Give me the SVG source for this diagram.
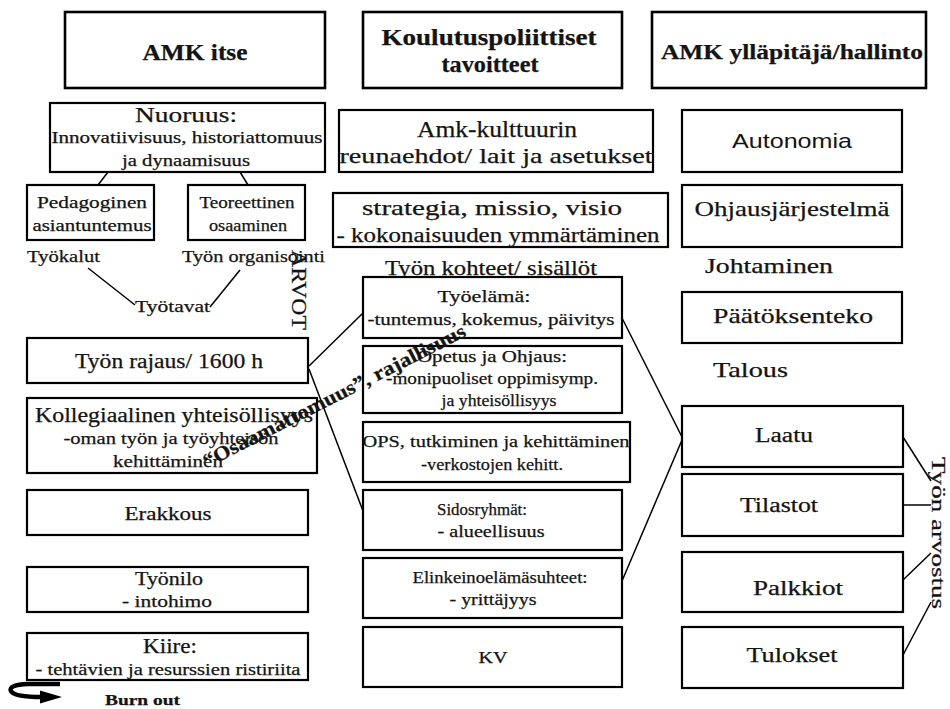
<svg xmlns="http://www.w3.org/2000/svg" width="950" height="709" viewBox="0 0 950 709">
  <style>
    .box { fill: #ffffff; stroke: #000000; stroke-width: 2.2; }
    .hdr { fill: #ffffff; stroke: #000000; stroke-width: 2.6; }
    .t { fill: #141414; text-anchor: middle; stroke: #141414; stroke-width: 0.25; }
    .s { fill: #141414; text-anchor: middle; }
    .b { font-weight: bold; }
    .l { text-anchor: start; }
    .ln { stroke: #000000; stroke-width: 1.5; fill: none; }
  </style>
  <rect x="0" y="0" width="950" height="709" fill="#ffffff"/>

  <g font-family="'Liberation Serif', 'Times New Roman', serif">
  <!-- column headers -->
  <g id="hdr-amk-itse">
    <rect class="hdr" x="65" y="12" width="260" height="76"/>
    <text class="t b" x="195" y="60" font-size="23" textLength="105" lengthAdjust="spacingAndGlyphs">AMK itse</text>
  </g>
  <g id="hdr-koulutuspolitiikka">
    <rect class="hdr" x="363" y="12" width="259" height="76"/>
    <text class="t b" x="489" y="45" font-size="23" textLength="215" lengthAdjust="spacingAndGlyphs">Koulutuspoliittiset</text>
    <text class="t b" x="490" y="72" font-size="23" textLength="97" lengthAdjust="spacingAndGlyphs">tavoitteet</text>
  </g>
  <g id="hdr-yllapitaja">
    <rect class="hdr" x="652" y="12" width="274" height="76"/>
    <text class="t b" x="792" y="59" font-size="22" textLength="262" lengthAdjust="spacingAndGlyphs">AMK ylläpitäjä/hallinto</text>
  </g>

  <!-- left column -->
  <g id="nuoruus">
    <rect class="box" x="50" y="103" width="275" height="69"/>
    <text class="t" x="186" y="122" font-size="22" textLength="102" lengthAdjust="spacingAndGlyphs">Nuoruus:</text>
    <text class="t" x="187" y="143" font-size="16" textLength="271" lengthAdjust="spacingAndGlyphs">Innovatiivisuus, historiattomuus</text>
    <text class="t" x="186" y="166" font-size="16" textLength="128" lengthAdjust="spacingAndGlyphs">ja dynaamisuus</text>
  </g>
  <g id="pedagoginen">
    <rect class="box" x="27" y="185" width="127" height="55"/>
    <text class="t" x="92" y="208" font-size="16" textLength="110" lengthAdjust="spacingAndGlyphs">Pedagoginen</text>
    <text class="t" x="92" y="231" font-size="16" textLength="119" lengthAdjust="spacingAndGlyphs">asiantuntemus</text>
  </g>
  <g id="teoreettinen">
    <rect class="box" x="188" y="185" width="117" height="55"/>
    <text class="t" x="247" y="208" font-size="16" textLength="95" lengthAdjust="spacingAndGlyphs">Teoreettinen</text>
    <text class="t" x="248" y="231" font-size="16" textLength="78" lengthAdjust="spacingAndGlyphs">osaaminen</text>
  </g>
  <g id="tyokalut">
    <text class="t l" x="27" y="262" font-size="17" textLength="73" lengthAdjust="spacingAndGlyphs">Työkalut</text>
  </g>
  <g id="tyon-organisointi">
    <text class="t l" x="182" y="262" font-size="17" textLength="143" lengthAdjust="spacingAndGlyphs">Työn organisointi</text>
  </g>
  <g id="tyotavat">
    <text class="t l" x="135" y="312" font-size="17" textLength="75" lengthAdjust="spacingAndGlyphs">Työtavat</text>
  </g>
  <g id="tyon-rajaus">
    <rect class="box" x="27" y="338" width="281" height="45"/>
    <text class="t" x="169" y="368" font-size="20" textLength="188" lengthAdjust="spacingAndGlyphs">Työn rajaus/ 1600 h</text>
  </g>
  <g id="kollegiaalinen">
    <rect class="box" x="27" y="398" width="290" height="75"/>
    <text class="t" x="174" y="422" font-size="20" textLength="278" lengthAdjust="spacingAndGlyphs">Kollegiaalinen yhteisöllisyys</text>
    <text class="t" x="171" y="444" font-size="17" textLength="215" lengthAdjust="spacingAndGlyphs">-oman työn ja työyhteisön</text>
    <text class="t" x="168" y="467" font-size="17" textLength="110" lengthAdjust="spacingAndGlyphs">kehittäminen</text>
  </g>
  <g id="erakkous">
    <rect class="box" x="27" y="490" width="281" height="45"/>
    <text class="t" x="168" y="520" font-size="18" textLength="87" lengthAdjust="spacingAndGlyphs">Erakkous</text>
  </g>
  <g id="tyonilo">
    <rect class="box" x="27" y="567" width="281" height="45"/>
    <text class="t" x="169" y="585" font-size="19" textLength="68" lengthAdjust="spacingAndGlyphs">Työnilo</text>
    <text class="t" x="167" y="607" font-size="17" textLength="90" lengthAdjust="spacingAndGlyphs">- intohimo</text>
  </g>
  <g id="kiire">
    <rect class="box" x="27" y="633" width="281" height="47"/>
    <text class="t" x="170" y="653" font-size="20" textLength="54" lengthAdjust="spacingAndGlyphs">Kiire:</text>
    <text class="t" x="168" y="675" font-size="17" textLength="265" lengthAdjust="spacingAndGlyphs">- tehtävien ja resurssien ristiriita</text>
  </g>
  <g id="burn-out">
    <path d="M60 684 L28 684 Q8 685 11 691 Q14 697 42 697" stroke="#000" stroke-width="4.5" fill="none"/>
    <polygon points="40,690.5 62,697 40,703.5" fill="#000"/>
    <text class="t b l" x="105" y="705" font-size="15" textLength="75" lengthAdjust="spacingAndGlyphs">Burn out</text>
  </g>

  <!-- middle column -->
  <g id="amk-kulttuuri">
    <rect class="box" x="339" y="110" width="314" height="62"/>
    <text class="t" x="497" y="137" font-size="23" textLength="160" lengthAdjust="spacingAndGlyphs">Amk-kulttuurin</text>
    <text class="t" x="496" y="163" font-size="22" textLength="313" lengthAdjust="spacingAndGlyphs">reunaehdot/ lait ja asetukset</text>
  </g>
  <g id="strategia">
    <rect class="box" x="333" y="193" width="335" height="54"/>
    <text class="t" x="492" y="215" font-size="21" textLength="260" lengthAdjust="spacingAndGlyphs">strategia, missio, visio</text>
    <text class="t" x="498" y="242" font-size="20" textLength="323" lengthAdjust="spacingAndGlyphs">- kokonaisuuden ymmärtäminen</text>
  </g>
  <g id="tyon-kohteet">
    <text class="t" x="491" y="275" font-size="21" textLength="212" lengthAdjust="spacingAndGlyphs">Työn kohteet/ sisällöt</text>
  </g>
  <g id="tyoelama">
    <rect class="box" x="363" y="277" width="259" height="61"/>
    <text class="t" x="484" y="302" font-size="16" textLength="93" lengthAdjust="spacingAndGlyphs">Työelämä:</text>
    <text class="t" x="491" y="325" font-size="16" textLength="247" lengthAdjust="spacingAndGlyphs">-tuntemus, kokemus, päivitys</text>
  </g>
  <g id="opetus">
    <rect class="box" x="363" y="346" width="259" height="67"/>
    <text class="t" x="492" y="362" font-size="16" textLength="150" lengthAdjust="spacingAndGlyphs">Opetus ja Ohjaus:</text>
    <text class="t" x="492" y="384" font-size="16" textLength="212" lengthAdjust="spacingAndGlyphs">-monipuoliset oppimisymp.</text>
    <text class="t" x="499" y="406" font-size="16" textLength="115" lengthAdjust="spacingAndGlyphs">ja yhteisöllisyys</text>
  </g>
  <g id="ops">
    <rect class="box" x="363" y="422" width="267" height="60"/>
    <text class="t" x="496" y="447" font-size="16" textLength="267" lengthAdjust="spacingAndGlyphs">OPS, tutkiminen ja kehittäminen</text>
    <text class="t" x="492" y="470" font-size="16" textLength="142" lengthAdjust="spacingAndGlyphs">-verkostojen kehitt.</text>
  </g>
  <g id="sidosryhmat">
    <rect class="box" x="363" y="490" width="259" height="60"/>
    <text class="t" x="482" y="515" font-size="16" textLength="90" lengthAdjust="spacingAndGlyphs">Sidosryhmät:</text>
    <text class="t" x="491" y="537" font-size="16" textLength="107" lengthAdjust="spacingAndGlyphs">- alueellisuus</text>
  </g>
  <g id="elinkeino">
    <rect class="box" x="363" y="558" width="259" height="60"/>
    <text class="t" x="500" y="583" font-size="16" textLength="175" lengthAdjust="spacingAndGlyphs">Elinkeinoelämäsuhteet:</text>
    <text class="t" x="493" y="605" font-size="16" textLength="87" lengthAdjust="spacingAndGlyphs">- yrittäjyys</text>
  </g>
  <g id="kv">
    <rect class="box" x="363" y="627" width="259" height="60"/>
    <text class="t" x="493" y="663" font-size="16" textLength="29" lengthAdjust="spacingAndGlyphs">KV</text>
  </g>

  <!-- right column -->
  <g id="autonomia">
    <rect class="box" x="682" y="110" width="220" height="62"/>
    <text class="s" x="792" y="148" font-size="21" font-family="'Liberation Sans', Arial, sans-serif" textLength="120" lengthAdjust="spacingAndGlyphs">Autonomia</text>
  </g>
  <g id="ohjausjarjestelma">
    <rect class="box" x="682" y="185" width="220" height="62"/>
    <text class="t" x="792" y="216" font-size="22" textLength="195" lengthAdjust="spacingAndGlyphs">Ohjausjärjestelmä</text>
  </g>
  <g id="johtaminen">
    <text class="t l" x="705" y="273" font-size="21" textLength="128" lengthAdjust="spacingAndGlyphs">Johtaminen</text>
  </g>
  <g id="paatoksenteko">
    <rect class="box" x="682" y="292" width="220" height="51"/>
    <text class="t" x="793" y="323" font-size="21" textLength="160" lengthAdjust="spacingAndGlyphs">Päätöksenteko</text>
  </g>
  <g id="talous">
    <text class="t l" x="713" y="377" font-size="21" textLength="75" lengthAdjust="spacingAndGlyphs">Talous</text>
  </g>
  <g id="laatu">
    <rect class="box" x="682" y="406" width="221" height="61"/>
    <text class="t" x="784" y="442" font-size="20" textLength="58" lengthAdjust="spacingAndGlyphs">Laatu</text>
  </g>
  <g id="tilastot">
    <rect class="box" x="682" y="474" width="221" height="62"/>
    <text class="t" x="779" y="512" font-size="20" textLength="78" lengthAdjust="spacingAndGlyphs">Tilastot</text>
  </g>
  <g id="palkkiot">
    <rect class="box" x="682" y="552" width="221" height="60"/>
    <text class="t" x="798" y="595" font-size="20" textLength="90" lengthAdjust="spacingAndGlyphs">Palkkiot</text>
  </g>
  <g id="tulokset">
    <rect class="box" x="682" y="627" width="221" height="61"/>
    <text class="t" x="792" y="662" font-size="20" textLength="91" lengthAdjust="spacingAndGlyphs">Tulokset</text>
  </g>

  <!-- connectors -->
  <g id="connectors">
    <line class="ln" x1="108" y1="172" x2="98" y2="185"/>
    <line class="ln" x1="240" y1="172" x2="248" y2="185"/>
    <line class="ln" x1="88" y1="268" x2="135" y2="305"/>
    <line class="ln" x1="240" y1="270" x2="210" y2="307"/>
    <line class="ln" x1="309" y1="366" x2="363" y2="313"/>
    <line class="ln" x1="309" y1="369" x2="363" y2="511"/>
    <line class="ln" x1="622" y1="318" x2="682" y2="437"/>
    <line class="ln" x1="622" y1="581" x2="682" y2="440"/>
    <line class="ln" x1="903" y1="437" x2="931" y2="481"/>
    <line class="ln" x1="903" y1="505" x2="931" y2="505"/>
    <line class="ln" x1="903" y1="580" x2="931" y2="553"/>
    <line class="ln" x1="903" y1="655" x2="931" y2="602"/>
  </g>

  <!-- rotated labels -->
  <g id="arvot">
    <text class="t l" transform="translate(292,250) rotate(90)" font-size="21" textLength="80" lengthAdjust="spacingAndGlyphs">ARVOT</text>
  </g>
  <g id="osaamattomuus">
    <text class="t b l" transform="translate(207,468) rotate(-27)" font-size="20" textLength="292" lengthAdjust="spacingAndGlyphs">“Osaamattomuus”, rajallisuus</text>
  </g>
  <g id="tyon-arvostus">
    <text class="t l" transform="translate(932,457) rotate(90)" font-size="19" textLength="152" lengthAdjust="spacingAndGlyphs">Työn arvostus</text>
  </g>
  </g>
</svg>
